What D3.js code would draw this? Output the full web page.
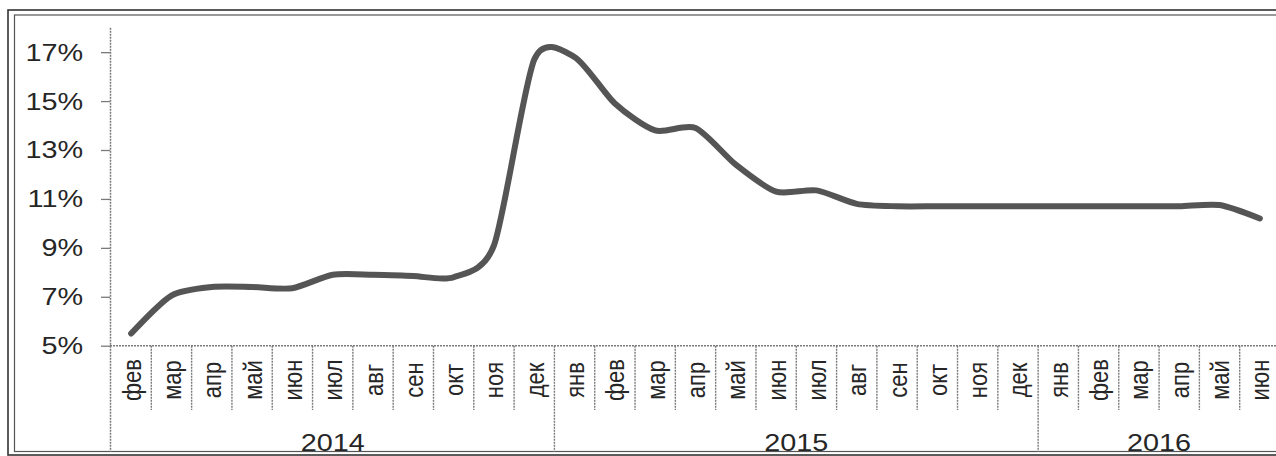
<!DOCTYPE html>
<html lang="ru">

<head>
    <meta charset="utf-8">
    <title>Ставка 2014-2016</title>
    <style>
        body { margin: 0; background: #fff; }
        svg { display: block; }
        text { font-family: "Liberation Sans", Arial, sans-serif; fill: #262626; }
    </style>
</head>

<body>
    <script src="https://cdn.jsdelivr.net/npm/d3@7/dist/d3.min.js"></script>
    <script>
        // data
        var years = ["2014", "2015", "2016"];
        var months2014 = ["фев", "мар", "апр", "май", "июн", "июл", "авг", "сен", "окт", "ноя", "дек"];
        var months2015 = ["янв", "фев", "мар", "апр", "май", "июн", "июл", "авг", "сен", "окт", "ноя", "дек"];
        var months2016 = ["янв", "фев", "мар", "апр", "май", "июн"];
        var values2014 = [5.5, 7.05, 7.4, 7.4, 7.35, 7.9, 7.9, 7.85, 7.8, 9.1, 16.7];
        var values2015 = [16.8, 14.9, 13.8, 13.9, 12.4, 11.3, 11.35, 10.8, 10.7, 10.7, 10.7, 10.7];
        var values2016 = [10.7, 10.7, 10.7, 10.7, 10.75, 10.2];
        var yTicks = [5, 7, 9, 11, 13, 15, 17];

        var w = 1276;
        var h = 456;
        var stretch = 1.2; // the scan is wider than tall

        var monthsByYear = [months2014, months2015, months2016];
        var valuesByYear = [values2014, values2015, values2016];

        // flat list of categories
        var cats = [];
        monthsByYear.forEach(function(ms, yi) {
            ms.forEach(function(m, mi) {
                cats.push({ key: years[yi] + "-" + m, month: m, year: years[yi], value: valuesByYear[yi][mi] });
            });
        });

        var svg = d3.select("body").append("svg")
            .attr("width", w)
            .attr("height", h);

        // frame (double line)
        svg.append("rect").attr("x", 8).attr("y", 10).attr("width", 1300).attr("height", 445)
            .attr("fill", "none").attr("stroke", "#333").attr("stroke-width", 1.6);
        svg.append("rect").attr("x", 14.5).attr("y", 15).attr("width", 1300).attr("height", 436.5)
            .attr("fill", "none").attr("stroke", "#555").attr("stroke-width", 1.2);

        var xScale = d3.scaleBand()
            .domain(cats.map(function(d) { return d.key; }))
            .range([111, 1280]);
        var bw = xScale.bandwidth();

        var yScale = d3.scaleLinear()
            .domain([5, 18])
            .range([345.7, 27.7]);

        var grid = "#7a7a7a";

        // y axis
        var yAxis = d3.axisLeft(yScale)
            .tickValues(yTicks)
            .tickSize(9)
            .tickFormat(function(d) { return d + "%"; });
        var gy = svg.append("g")
            .attr("transform", "translate(110,0)")
            .call(yAxis);
        gy.select(".domain").remove();
        gy.selectAll(".tick line").attr("stroke", grid).attr("stroke-width", 1.3);
        gy.selectAll(".tick text")
            .attr("x", -27 / stretch)
            .attr("dy", "0.33em")
            .attr("transform", "scale(" + stretch + ",1)")
            .style("font-size", "24px")
            .style("font-family", "'Liberation Sans', Arial, sans-serif")
            .attr("fill", "#262626");

        // vertical axis line through the category table
        svg.append("line")
            .attr("x1", 110.5).attr("x2", 110.5)
            .attr("y1", yScale(18)).attr("y2", 452)
            .attr("stroke", grid).attr("stroke-width", 1.5)
            .attr("stroke-dasharray", "2,1");

        // x axis line
        svg.append("line")
            .attr("x1", 110).attr("x2", 1280)
            .attr("y1", yScale(5)).attr("y2", yScale(5))
            .attr("stroke", grid).attr("stroke-width", 1.5)
            .attr("stroke-dasharray", "2,1");

        // month dividers
        svg.selectAll(".mdiv")
            .data(cats)
            .enter()
            .append("line")
            .attr("class", "mdiv")
            .attr("x1", function(d) { return xScale(d.key) + bw; })
            .attr("x2", function(d) { return xScale(d.key) + bw; })
            .attr("y1", yScale(5))
            .attr("y2", function(d, i) {
                var last = i < cats.length - 1 && cats[i + 1].year != d.year;
                return last ? 452 : 410;
            })
            .attr("stroke", grid).attr("stroke-width", 1.4)
            .attr("stroke-dasharray", "2,1");

        // month labels
        svg.selectAll(".mlab")
            .data(cats)
            .enter()
            .append("text")
            .attr("class", "mlab")
            .attr("transform", function(d) {
                return "translate(" + (xScale(d.key) + bw / 2) + ",380) scale(" + stretch + ",1) rotate(-90)";
            })
            .attr("text-anchor", "middle")
            .attr("dy", "0.36em")
            .style("font-size", "22px")
            .text(function(d) { return d.month; });

        // year labels
        svg.selectAll(".ylab")
            .data(years)
            .enter()
            .append("text")
            .attr("class", "ylab")
            .attr("transform", function(d) {
                var ks = cats.filter(function(c) { return c.year == d; });
                var x0 = xScale(ks[0].key);
                var x1 = xScale(ks[ks.length - 1].key) + bw;
                return "translate(" + ((x0 + x1) / 2) + ",451) scale(" + stretch + ",1)";
            })
            .attr("text-anchor", "middle")
            .style("font-size", "24px")
            .text(function(d) { return d; });

        // the line
        var line = d3.line()
            .x(function(d) { return xScale(d.key) + bw / 2; })
            .y(function(d) { return yScale(d.value); })
            .curve(d3.curveCardinal.tension(0.25));

        svg.append("path")
            .datum(cats)
            .attr("d", line)
            .attr("fill", "none")
            .attr("stroke", "#555")
            .attr("stroke-width", 6)
            .attr("stroke-linecap", "round")
            .attr("stroke-linejoin", "round");
    </script>
</body>

</html>
